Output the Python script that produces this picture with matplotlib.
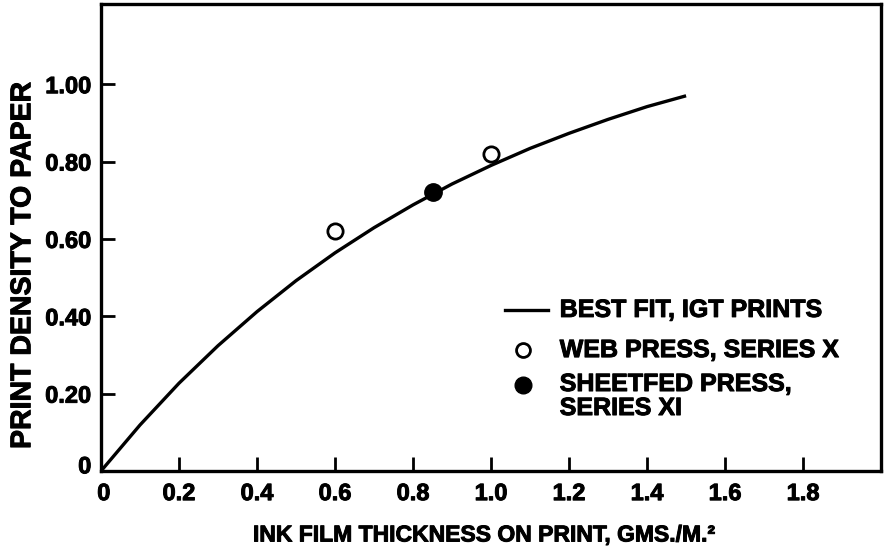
import matplotlib
matplotlib.use("Agg")
import matplotlib.pyplot as plt
import matplotlib.patheffects as pe

# Data
fit_x = [0.0, 0.1, 0.2, 0.3, 0.4, 0.5, 0.6, 0.7, 0.8, 0.9, 1.0, 1.1, 1.2, 1.3, 1.4, 1.5]
fit_y = [0.0, 0.119, 0.227, 0.324, 0.412, 0.492, 0.564, 0.629, 0.688, 0.742, 0.790, 0.834, 0.873, 0.909, 0.942, 0.970]
web_x = [0.60, 1.00]
web_y = [0.62, 0.82]
sheet_x = [0.85]
sheet_y = [0.72]

xticks = [0.2, 0.4, 0.6, 0.8, 1.0, 1.2, 1.4, 1.6, 1.8]
xtick_labels = ["0.2", "0.4", "0.6", "0.8", "1.0", "1.2", "1.4", "1.6", "1.8"]
yticks = [0.2, 0.4, 0.6, 0.8, 1.0]
ytick_labels = ["0.20", "0.40", "0.60", "0.80", "1.00"]
legend_labels = ["BEST FIT, IGT PRINTS", "WEB PRESS, SERIES X", "SHEETFED PRESS,\nSERIES XI"]

plt.rcParams['font.family'] = ['Liberation Sans', 'DejaVu Sans']
plt.rcParams['font.weight'] = 'bold'

bold = [pe.withStroke(linewidth=0.7, foreground='black')]

fig = plt.figure(figsize=(8.9, 5.48), dpi=100)
ax = fig.add_axes([0.1135, 0.1405, 0.8765, 0.852])

ax.plot(fit_x, fit_y, color='black', lw=2.4, solid_capstyle='butt')
ax.plot(web_x, web_y, 'o', ms=11, mfc='white', mec='black', mew=2.0)
ax.plot(sheet_x, sheet_y, 'o', ms=12.5, mfc='black', mec='black')

ax.set_xlim(0, 2.0)
ax.set_ylim(0, 1.207)
ax.set_xticks(xticks)
ax.set_xticklabels(xtick_labels)
ax.set_yticks(yticks)
ax.set_yticklabels(ytick_labels)
ax.tick_params(direction='in', length=10, width=2, labelsize=17)
ax.tick_params(axis='y', pad=7)
ax.tick_params(axis='x', pad=8)
for lab in ax.get_xticklabels() + ax.get_yticklabels():
    lab.set_path_effects(bold)

# origin labels
ax.annotate("0", xy=(0, 0), xycoords='data', xytext=(-7, 3), textcoords='offset points',
            ha='right', va='center', fontsize=17, fontweight='bold', path_effects=bold)
ax.annotate("0", xy=(0, 0), xycoords='data', xytext=(2, -8), textcoords='offset points',
            ha='center', va='top', fontsize=17, fontweight='bold', path_effects=bold)

for s in ax.spines.values():
    s.set_linewidth(2.4)

ax.set_xlabel("INK FILM THICKNESS ON PRINT, GMS./M.\u00b2", fontsize=16.5, fontweight='bold',
              path_effects=bold)
ax.xaxis.set_label_coords(0.49, -0.137)
ax.xaxis.label.set_va('center')
ax.set_ylabel("PRINT DENSITY TO PAPER", fontsize=20.5, fontweight='bold',
              path_effects=bold)
ax.yaxis.set_label_coords(-0.083, 0.44)

# legend, laid out by hand to match the reference
tr = ax.transAxes
ax.plot([0.518, 0.573], [0.345, 0.345], color='black', lw=2.4, transform=tr, clip_on=False)
ax.plot([0.541], [0.259], 'o', ms=10, mfc='white', mec='black', mew=2.0, transform=tr, clip_on=False)
ax.plot([0.541], [0.184], 'o', ms=12, mfc='black', mec='black', transform=tr, clip_on=False)
text_x = 0.588
ax.text(text_x, 0.345, legend_labels[0], transform=tr, ha='left', va='center',
        fontsize=18, fontweight='bold', path_effects=bold)
ax.text(text_x, 0.259, legend_labels[1], transform=tr, ha='left', va='center',
        fontsize=18, fontweight='bold', path_effects=bold)
ax.text(text_x, 0.184 + 0.028, legend_labels[2], transform=tr, ha='left', va='top',
        fontsize=18, fontweight='bold', linespacing=1.0, path_effects=bold)

fig.savefig("out.png", dpi=100)
